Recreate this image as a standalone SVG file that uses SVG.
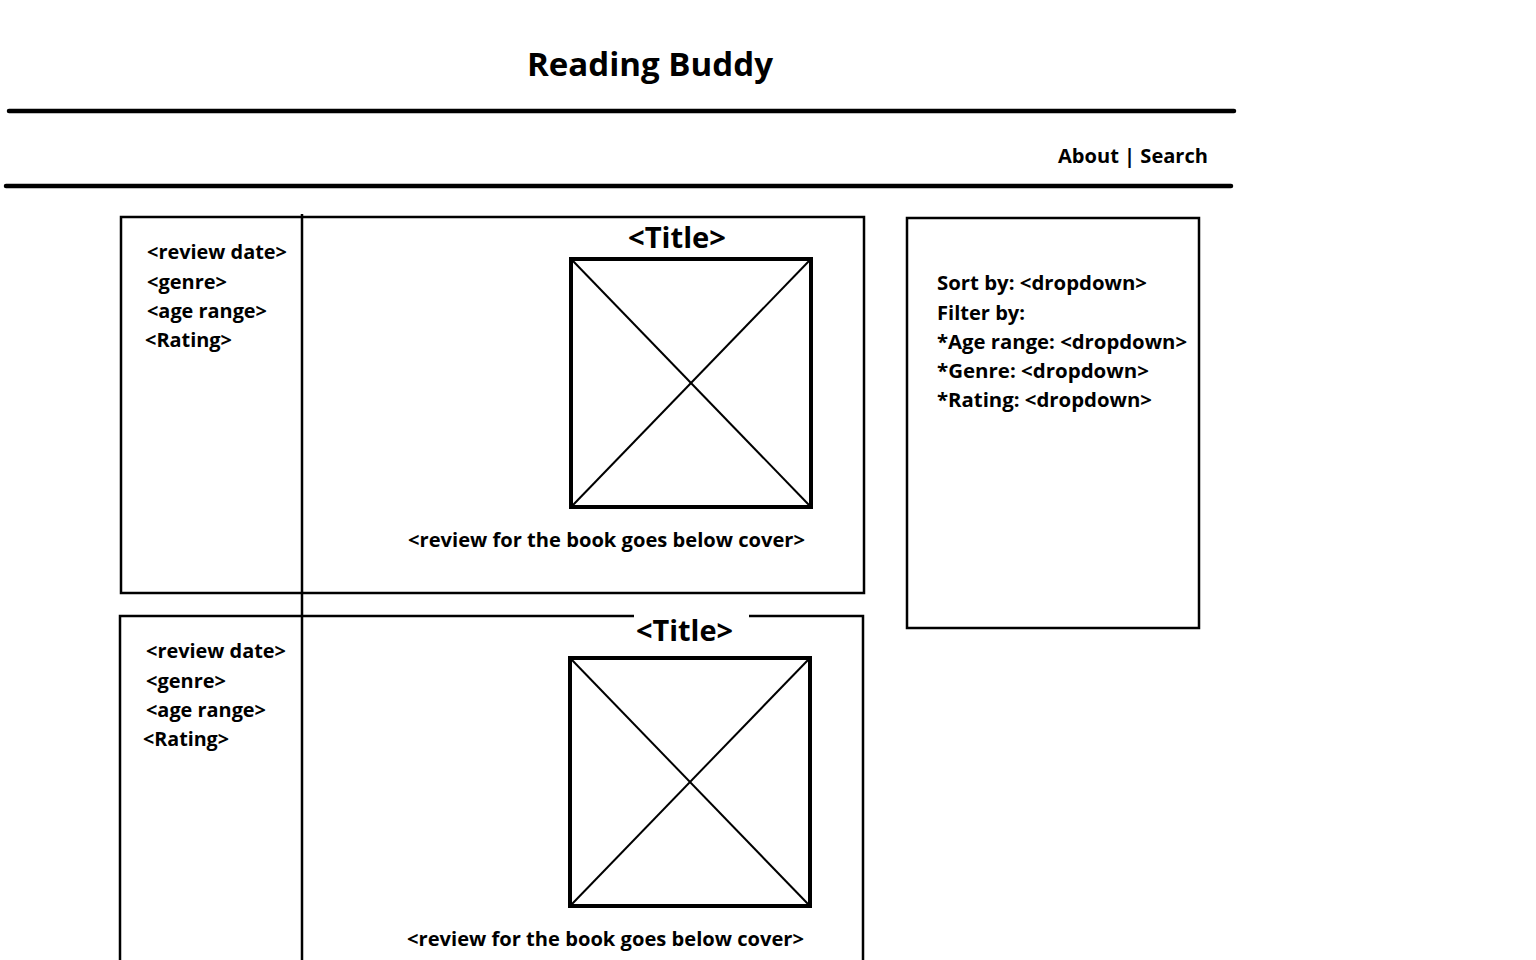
<svg xmlns="http://www.w3.org/2000/svg" width="1536" height="960" viewBox="0 0 1536 960">
  <style>
    text { font-family: "Open Sans", "Noto Sans", "Liberation Sans", sans-serif; font-weight: bold; fill: #000; }
    .rule { stroke: #000; stroke-width: 4.5; stroke-linecap: round; }
    .frame { fill: none; stroke: #000; stroke-width: 2.5; }
    .cover { fill: none; stroke: #000; stroke-width: 4; }
    .cross { stroke: #000; stroke-width: 2; }
    .sm { font-size: 19px; }
    .ttl { font-size: 28px; }
  </style>
  <rect width="1536" height="960" fill="#fff"/>

  <!-- header -->
  <g id="header">
    <text x="527" y="76" font-size="33" textLength="246" lengthAdjust="spacingAndGlyphs">Reading Buddy</text>
    <line class="rule" x1="9" y1="111" x2="1234" y2="111"/>
    <text x="1058" y="163" font-size="20" textLength="150" lengthAdjust="spacingAndGlyphs">About | Search</text>
    <line class="rule" x1="6" y1="186" x2="1231" y2="186"/>
  </g>

  <!-- review card 1 -->
  <g id="card1">
    <rect class="frame" x="121" y="217" width="743" height="376"/>
    <text class="sm" x="147" y="259" textLength="140" lengthAdjust="spacingAndGlyphs">&lt;review date&gt;</text>
    <text class="sm" x="147" y="289" textLength="80" lengthAdjust="spacingAndGlyphs">&lt;genre&gt;</text>
    <text class="sm" x="147" y="318" textLength="120" lengthAdjust="spacingAndGlyphs">&lt;age range&gt;</text>
    <text class="sm" x="145" y="347" textLength="87" lengthAdjust="spacingAndGlyphs">&lt;Rating&gt;</text>
    <text class="ttl" x="628" y="248" textLength="98" lengthAdjust="spacingAndGlyphs">&lt;Title&gt;</text>
    <rect class="cover" x="571" y="259" width="240" height="248"/>
    <line class="cross" x1="573" y1="261" x2="809" y2="505"/>
    <line class="cross" x1="809" y1="261" x2="573" y2="505"/>
    <text class="sm" x="408" y="547" textLength="397" lengthAdjust="spacingAndGlyphs">&lt;review for the book goes below cover&gt;</text>
  </g>

  <!-- review card 2 -->
  <g id="card2">
    <path class="frame" d="M634,616 H120 V962 M749,616 H863 V962"/>
    <text class="sm" x="146" y="658" textLength="140" lengthAdjust="spacingAndGlyphs">&lt;review date&gt;</text>
    <text class="sm" x="146" y="688" textLength="80" lengthAdjust="spacingAndGlyphs">&lt;genre&gt;</text>
    <text class="sm" x="146" y="717" textLength="120" lengthAdjust="spacingAndGlyphs">&lt;age range&gt;</text>
    <text class="sm" x="143" y="746" textLength="86" lengthAdjust="spacingAndGlyphs">&lt;Rating&gt;</text>
    <text class="ttl" x="636" y="641" textLength="97" lengthAdjust="spacingAndGlyphs">&lt;Title&gt;</text>
    <rect class="cover" x="570" y="658" width="240" height="248"/>
    <line class="cross" x1="572" y1="660" x2="808" y2="904"/>
    <line class="cross" x1="808" y1="660" x2="572" y2="904"/>
    <text class="sm" x="407" y="946" textLength="397" lengthAdjust="spacingAndGlyphs">&lt;review for the book goes below cover&gt;</text>
  </g>

  <!-- column divider running through both cards -->
  <g id="divider">
    <line stroke="#000" stroke-width="2.5" x1="302" y1="214" x2="302" y2="962"/>
  </g>

  <!-- sort / filter sidebar -->
  <g id="sidebar">
    <rect class="frame" x="907" y="218" width="292" height="410"/>
    <text class="sm" x="937" y="290" textLength="210" lengthAdjust="spacingAndGlyphs">Sort by: &lt;dropdown&gt;</text>
    <text class="sm" x="937" y="320" textLength="88" lengthAdjust="spacingAndGlyphs">Filter by:</text>
    <text class="sm" x="937" y="349" textLength="250" lengthAdjust="spacingAndGlyphs">*Age range: &lt;dropdown&gt;</text>
    <text class="sm" x="937" y="378" textLength="212" lengthAdjust="spacingAndGlyphs">*Genre: &lt;dropdown&gt;</text>
    <text class="sm" x="937" y="407" textLength="215" lengthAdjust="spacingAndGlyphs">*Rating: &lt;dropdown&gt;</text>
  </g>
</svg>
